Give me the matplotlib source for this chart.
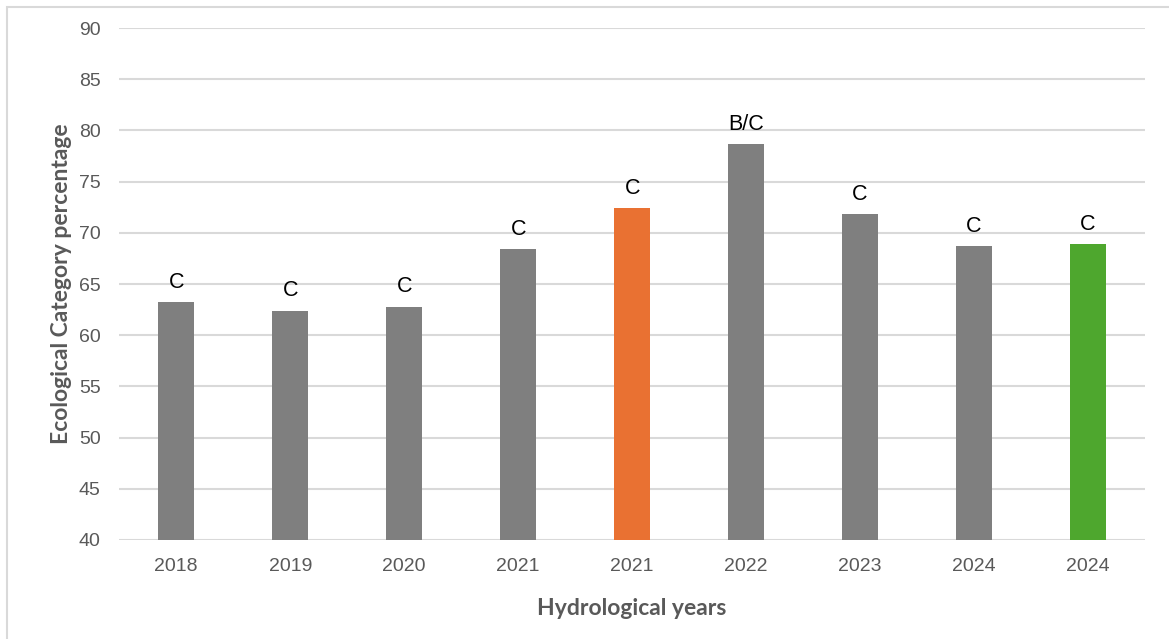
import matplotlib.pyplot as plt
from matplotlib.patches import Rectangle

# bar data: hydrological year, ecological category percentage, class label
years = ["2018", "2019", "2020", "2021", "2021", "2022", "2023", "2024", "2024"]
values = [63.2, 62.4, 62.8, 68.4, 72.4, 78.7, 71.8, 68.7, 68.9]
classes = ["C", "C", "C", "C", "C", "B/C", "C", "C", "C"]

GREY = "#7f7f7f"
ORANGE = "#e97132"
GREEN = "#4ea72e"
colors = [GREY, GREY, GREY, GREY, ORANGE, GREY, GREY, GREY, GREEN]

TXT = "#595959"

fig = plt.figure(figsize=(11.69, 6.39), dpi=100)
ax = fig.add_axes([0.102, 0.155, 0.8775, 0.801])

x = range(len(years))
bars = ax.bar(x, values, width=0.32, color=colors, zorder=3)

for b, lab in zip(bars, classes):
    ax.text(b.get_x() + b.get_width() / 2, b.get_height() + 0.9, lab,
            ha="center", va="bottom", fontsize=15.5, color="black",
            family="Liberation Sans")

ax.set_ylim(40, 90)
ax.set_xlim(-0.5, len(years) - 0.5)
ax.set_yticks(range(40, 91, 5))
ax.set_xticks(list(x))
ax.set_xticklabels(years)
ax.yaxis.grid(True, color="#d9d9d9", linewidth=1.5, zorder=0)
ax.set_axisbelow(True)
for s in ax.spines.values():
    s.set_visible(False)
ax.tick_params(length=0, labelsize=14, labelcolor=TXT)
ax.tick_params(axis="x", pad=13)
ax.tick_params(axis="y", pad=13.5)
for t in ax.get_xticklabels() + ax.get_yticklabels():
    t.set_family("Liberation Sans")

ax.set_xlabel("Hydrological years", fontsize=16.5, fontweight="bold",
              color=TXT, family="Lato")
ax.set_ylabel("Ecological Category percentage", fontsize=16.5, fontweight="bold",
              color=TXT, family="Lato")
ax.xaxis.set_label_coords(0.5, -0.113)
ax.yaxis.set_label_coords(-0.046, 0.5)

# chart area frame, only top and left edges fall inside the image
fig.patches.append(Rectangle((7 / 1169, -0.1), 1.2, 1.1 - 7 / 639,
                             transform=fig.transFigure, fill=False,
                             edgecolor="#d9d9d9", linewidth=1.5))

fig.savefig("out.png", dpi=100)
